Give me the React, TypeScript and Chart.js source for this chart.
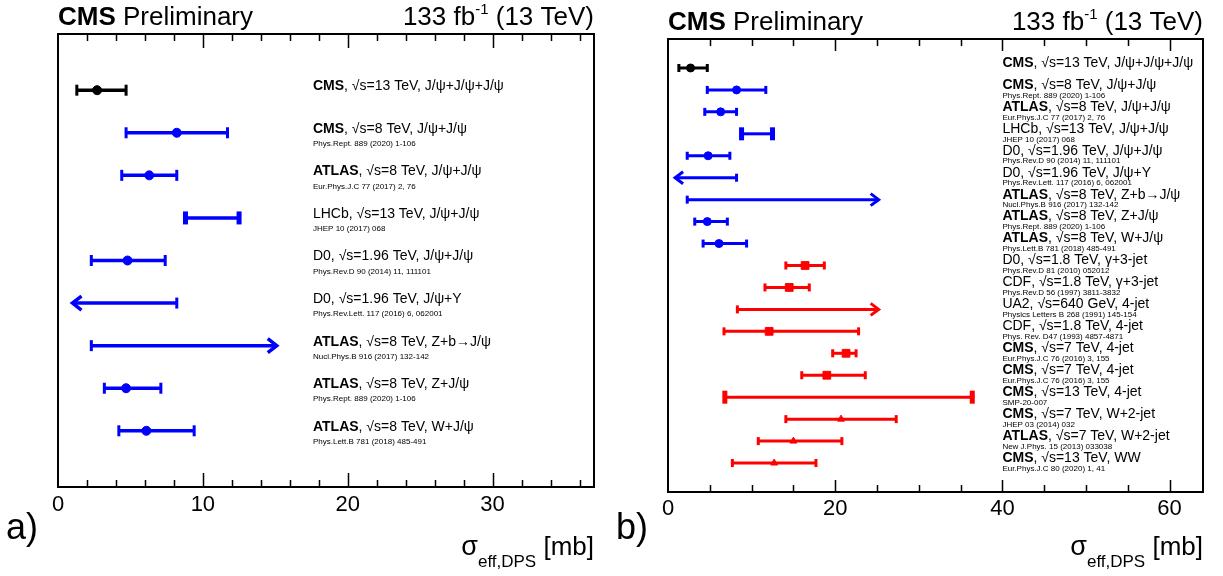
import React, { useEffect, useRef } from 'react';
import { Chart, registerables } from 'chart.js';

Chart.register(...registerables);

// ---------------- data ----------------
const experiments = ['CMS', 'CMS', 'ATLAS', 'LHCb', 'D0', 'D0', 'ATLAS', 'ATLAS', 'ATLAS', 'D0', 'CDF', 'UA2', 'CDF', 'CMS', 'CMS', 'CMS', 'CMS', 'ATLAS', 'CMS'];
const processes = [
  ', √s=13 TeV, J/ψ+J/ψ+J/ψ',
  ', √s=8 TeV, J/ψ+J/ψ',
  ', √s=8 TeV, J/ψ+J/ψ',
  ', √s=13 TeV, J/ψ+J/ψ',
  ', √s=1.96 TeV, J/ψ+J/ψ',
  ', √s=1.96 TeV, J/ψ+Y',
  ', √s=8 TeV, Z+b→J/ψ',
  ', √s=8 TeV, Z+J/ψ',
  ', √s=8 TeV, W+J/ψ',
  ', √s=1.8 TeV, γ+3-jet',
  ', √s=1.8 TeV, γ+3-jet',
  ', √s=640 GeV, 4-jet',
  ', √s=1.8 TeV, 4-jet',
  ', √s=7 TeV, 4-jet',
  ', √s=7 TeV, 4-jet',
  ', √s=13 TeV, 4-jet',
  ', √s=7 TeV, W+2-jet',
  ', √s=7 TeV, W+2-jet',
  ', √s=13 TeV, WW',
];
const references = [
  '',
  'Phys.Rept. 889 (2020) 1-106',
  'Eur.Phys.J.C 77 (2017) 2, 76',
  'JHEP 10 (2017) 068',
  'Phys.Rev.D 90 (2014) 11, 111101',
  'Phys.Rev.Lett. 117 (2016) 6, 062001',
  'Nucl.Phys.B 916 (2017) 132-142',
  'Phys.Rept. 889 (2020) 1-106',
  'Phys.Lett.B 781 (2018) 485-491',
  'Phys.Rev.D 81 (2010) 052012',
  'Phys.Rev.D 56 (1997) 3811-3832',
  'Physics Letters B 268 (1991) 145-154',
  'Phys. Rev. D47 (1993) 4857-4871',
  'Eur.Phys.J.C 76 (2016) 3, 155',
  'Eur.Phys.J.C 76 (2016) 3, 155',
  'SMP-20-007',
  'JHEP 03 (2014) 032',
  'New J.Phys. 15 (2013) 033038',
  'Eur.Phys.J.C 80 (2020) 1, 41',
];
const channels = ['triple', 'quarkonium', 'quarkonium', 'quarkonium', 'quarkonium', 'quarkonium', 'quarkonium', 'quarkonium', 'quarkonium', 'jets', 'jets', 'jets', 'jets', 'jets', 'jets', 'jets', 'bosons', 'bosons', 'bosons'];
const sigmaEff = [2.7, 8.2, 6.3, null, 4.8, null, null, 4.7, 6.1, 16.4, 14.5, null, 12.1, 21.3, 19.0, null, 20.7, 15.0, 12.7];
const sigmaLow = [1.3, 4.7, 4.4, 8.8, 2.3, null, 2.3, 3.2, 4.2, 14.1, 11.6, 8.3, 6.7, 19.7, 16.0, 6.8, 14.1, 10.8, 7.7];
const sigmaHigh = [4.7, 11.7, 8.2, 12.5, 7.4, 8.2, null, 7.1, 9.4, 18.7, 16.9, null, 22.8, 22.5, 23.6, 36.4, 27.3, 20.8, 17.7];
const limitArrowEndA = [null, null, null, null, null, 1.0, 15.1, null, null];
const limitArrowEndB = [null, null, null, null, null, 0.85, 25.2, null, null, null, null, 25.2, null, null, null, null, null, null, null];
const xTicksA = [0, 10, 20, 30];
const xTicksB = [0, 20, 40, 60];

// ---------------- styles ----------------
const FONT = '"Liberation Sans", Arial, Helvetica, sans-serif';
const channelColor: Record<string, string> = { triple: '#000000', quarkonium: '#0000ff', jets: '#ff0000', bosons: '#ff0000' };
const channelMarker: Record<string, string> = { triple: 'circle', quarkonium: 'circle', jets: 'rect', bosons: 'triangle' };

const PANEL_A = {
  rows: 9, xMax: 37, minor: 2, major: 10, ticks: xTicksA, arrowEnd: limitArrowEndA, labelX: 17.6,
  width: 610, left: 0, pad: { left: 58, right: 16, top: 34 }, axisH: 89, tickPad: 5, rowPad: 1.32,
  rowFont: 14, refFont: 8, mainDy: -4, refDy: 11, lineW: 3.5, capH: 11, capW: 3, dotR: 4.5, rectR: 5.5, triR: 4.5,
  headL: 9, headH: 7, majorLen: 14, minorLen: 7, headerY: 18, tag: 'a)',
};
const PANEL_B = {
  rows: 19, xMax: 64, minor: 5, major: 20, ticks: xTicksB, arrowEnd: limitArrowEndB, labelX: 40,
  width: 613, left: 610, pad: { left: 58, right: 20, top: 39 }, axisH: 84, tickPad: 4, rowPad: 1.32,
  rowFont: 14, refFont: 8, mainDy: -5, refDy: 5.5, lineW: 3, capH: 8, capW: 3, dotR: 4, rectR: 5.5, triR: 4,
  headL: 8, headH: 6, majorLen: 12, minorLen: 7, headerY: 23, tag: 'b)',
};

function drawParts(ctx: CanvasRenderingContext2D, parts: { text: string; font: string; dy?: number }[], x: number, y: number, align: 'left' | 'right') {
  let total = 0;
  for (const p of parts) { ctx.font = p.font; total += ctx.measureText(p.text).width; }
  let cx = align === 'right' ? x - total : x;
  ctx.textAlign = 'left';
  for (const p of parts) {
    ctx.font = p.font;
    ctx.fillText(p.text, cx, y + (p.dy || 0));
    cx += ctx.measureText(p.text).width;
  }
}

function makeDecor(cfg: any) {
  return {
    id: 'panelDecor',
    beforeDatasetsDraw(chart: any) {
      const { ctx, chartArea: ca } = chart;
      const x = chart.scales.x;
      const y = chart.scales.y;
      ctx.save();
      // frame
      ctx.strokeStyle = '#000';
      ctx.lineWidth = 2;
      ctx.strokeRect(ca.left, ca.top, ca.right - ca.left, ca.bottom - ca.top);
      // inward ticks on top and bottom
      ctx.lineWidth = 1.5;
      for (let v = cfg.minor; v < cfg.xMax; v += cfg.minor) {
        const px = Math.round(x.getPixelForValue(v)) + 0.5;
        const isMajor = Math.abs(v / cfg.major - Math.round(v / cfg.major)) < 1e-6;
        const len = isMajor ? cfg.majorLen : cfg.minorLen;
        ctx.beginPath();
        ctx.moveTo(px, ca.bottom); ctx.lineTo(px, ca.bottom - len);
        ctx.moveTo(px, ca.top); ctx.lineTo(px, ca.top + len);
        ctx.stroke();
      }
      // error bars / limits
      ctx.lineCap = 'butt';
      for (let i = 0; i < cfg.rows; i++) {
        const col = channelColor[channels[i]];
        ctx.strokeStyle = col;
        ctx.fillStyle = col;
        const py = y.getPixelForValue(i);
        const lo = sigmaLow[i];
        const hi = sigmaHigh[i];
        const tip = cfg.arrowEnd[i];
        const cap = (v: number) => {
          const px = x.getPixelForValue(v);
          if (sigmaEff[i] == null && lo != null && hi != null) {
            ctx.fillRect(px - 2.5, py - 6.5, 5, 13);
          } else {
            ctx.fillRect(px - cfg.capW / 2, py - cfg.capH / 2, cfg.capW, cfg.capH);
          }
        };
        const line = (a: number, b: number) => {
          ctx.lineWidth = cfg.lineW;
          ctx.beginPath();
          ctx.moveTo(x.getPixelForValue(a), py);
          ctx.lineTo(x.getPixelForValue(b), py);
          ctx.stroke();
        };
        const head = (v: number, dir: number) => {
          const px = x.getPixelForValue(v);
          ctx.lineWidth = cfg.lineW;
          ctx.lineJoin = 'miter';
          ctx.beginPath();
          ctx.moveTo(px - dir * cfg.headL, py - cfg.headH);
          ctx.lineTo(px, py);
          ctx.lineTo(px - dir * cfg.headL, py + cfg.headH);
          ctx.stroke();
        };
        if (lo != null && hi != null) {
          line(lo, hi); cap(lo); cap(hi);
        } else if (lo != null && tip != null) {
          line(lo, tip); cap(lo); head(tip, 1);
        } else if (hi != null && tip != null) {
          line(tip, hi); cap(hi); head(tip, -1);
        }
      }
      ctx.restore();
    },
    afterDraw(chart: any) {
      const { ctx, chartArea: ca } = chart;
      const x = chart.scales.x;
      const y = chart.scales.y;
      ctx.save();
      ctx.fillStyle = '#000';
      ctx.textBaseline = 'middle';
      const lx = x.getPixelForValue(cfg.labelX);
      for (let i = 0; i < cfg.rows; i++) {
        const py = y.getPixelForValue(i);
        const bold = experiments[i] === 'CMS' || experiments[i] === 'ATLAS';
        drawParts(ctx, [
          { text: experiments[i], font: `${bold ? 'bold ' : ''}${cfg.rowFont}px ${FONT}` },
          { text: processes[i], font: `${cfg.rowFont}px ${FONT}` },
        ], lx, py + cfg.mainDy, 'left');
        if (references[i]) {
          ctx.font = `${cfg.refFont}px ${FONT}`;
          ctx.textAlign = 'left';
          ctx.fillText(references[i], lx, py + cfg.refDy);
        }
      }
      // header
      drawParts(ctx, [
        { text: 'CMS', font: `bold 26px ${FONT}` },
        { text: ' Preliminary', font: `26px ${FONT}` },
      ], ca.left, cfg.headerY, 'left');
      drawParts(ctx, [
        { text: '133 fb', font: `26px ${FONT}` },
        { text: '-1', font: `15px ${FONT}`, dy: -8 },
        { text: ' (13 TeV)', font: `26px ${FONT}` },
      ], ca.right, cfg.headerY, 'right');
      // axis title
      ctx.textBaseline = 'alphabetic';
      drawParts(ctx, [
        { text: 'σ', font: `27px ${FONT}` },
        { text: 'eff,DPS', font: `17px ${FONT}`, dy: 12 },
        { text: ' [mb]', font: `26px ${FONT}` },
      ], ca.right, 555, 'right');
      // panel tag
      ctx.font = `36px ${FONT}`;
      ctx.textAlign = 'left';
      ctx.fillText(cfg.tag, 6, 539);
      ctx.restore();
    },
  };
}

function Panel({ cfg }: { cfg: any }) {
  const ref = useRef<HTMLCanvasElement | null>(null);
  useEffect(() => {
    if (!ref.current) return;
    const pts: any[] = [];
    const styles: string[] = [];
    const colors: string[] = [];
    const radii: number[] = [];
    for (let i = 0; i < cfg.rows; i++) {
      if (sigmaEff[i] == null) continue;
      pts.push({ x: sigmaEff[i], y: i });
      const m = channelMarker[channels[i]];
      styles.push(m);
      colors.push(channelColor[channels[i]]);
      radii.push(m === 'rect' ? cfg.rectR : m === 'triangle' ? cfg.triR : cfg.dotR);
    }
    const chart = new Chart(ref.current, {
      type: 'scatter',
      data: {
        datasets: [{
          data: pts,
          pointStyle: styles as any,
          pointRadius: radii,
          pointBackgroundColor: colors,
          pointBorderColor: colors,
          pointBorderWidth: 1,
        }],
      },
      options: {
        animation: false,
        responsive: false,
        maintainAspectRatio: false,
        events: [],
        layout: { padding: { left: cfg.pad.left, right: cfg.pad.right, top: cfg.pad.top, bottom: 0 } },
        plugins: { legend: { display: false }, tooltip: { enabled: false } },
        scales: {
          x: {
            type: 'linear',
            position: 'bottom',
            min: 0,
            max: cfg.xMax,
            grid: { display: false, drawTicks: false },
            border: { display: false },
            ticks: {
              includeBounds: false,
              stepSize: cfg.major,
              color: '#000',
              font: { family: FONT, size: 22 },
              padding: cfg.tickPad,
              maxRotation: 0,
              autoSkip: false,
            },
            afterBuildTicks: (s: any) => { s.ticks = cfg.ticks.map((v: number) => ({ value: v })); },
            afterFit: (s: any) => { s.height = cfg.axisH; },
          },
          y: {
            type: 'linear',
            display: false,
            reverse: true,
            min: -cfg.rowPad,
            max: cfg.rows - 1 + cfg.rowPad,
          },
        },
      },
      plugins: [makeDecor(cfg)],
    } as any);
    return () => chart.destroy();
  }, [cfg]);
  return (
    <canvas
      ref={ref}
      width={cfg.width}
      height={576}
      style={{ position: 'absolute', left: cfg.left, top: 0, width: cfg.width, height: 576, display: 'block' }}
    />
  );
}

export default function App() {
  return (
    <div style={{ position: 'absolute', left: 0, top: 0, width: 1223, height: 576, background: '#ffffff', overflow: 'hidden' }}>
      <Panel cfg={PANEL_A} />
      <Panel cfg={PANEL_B} />
    </div>
  );
}
